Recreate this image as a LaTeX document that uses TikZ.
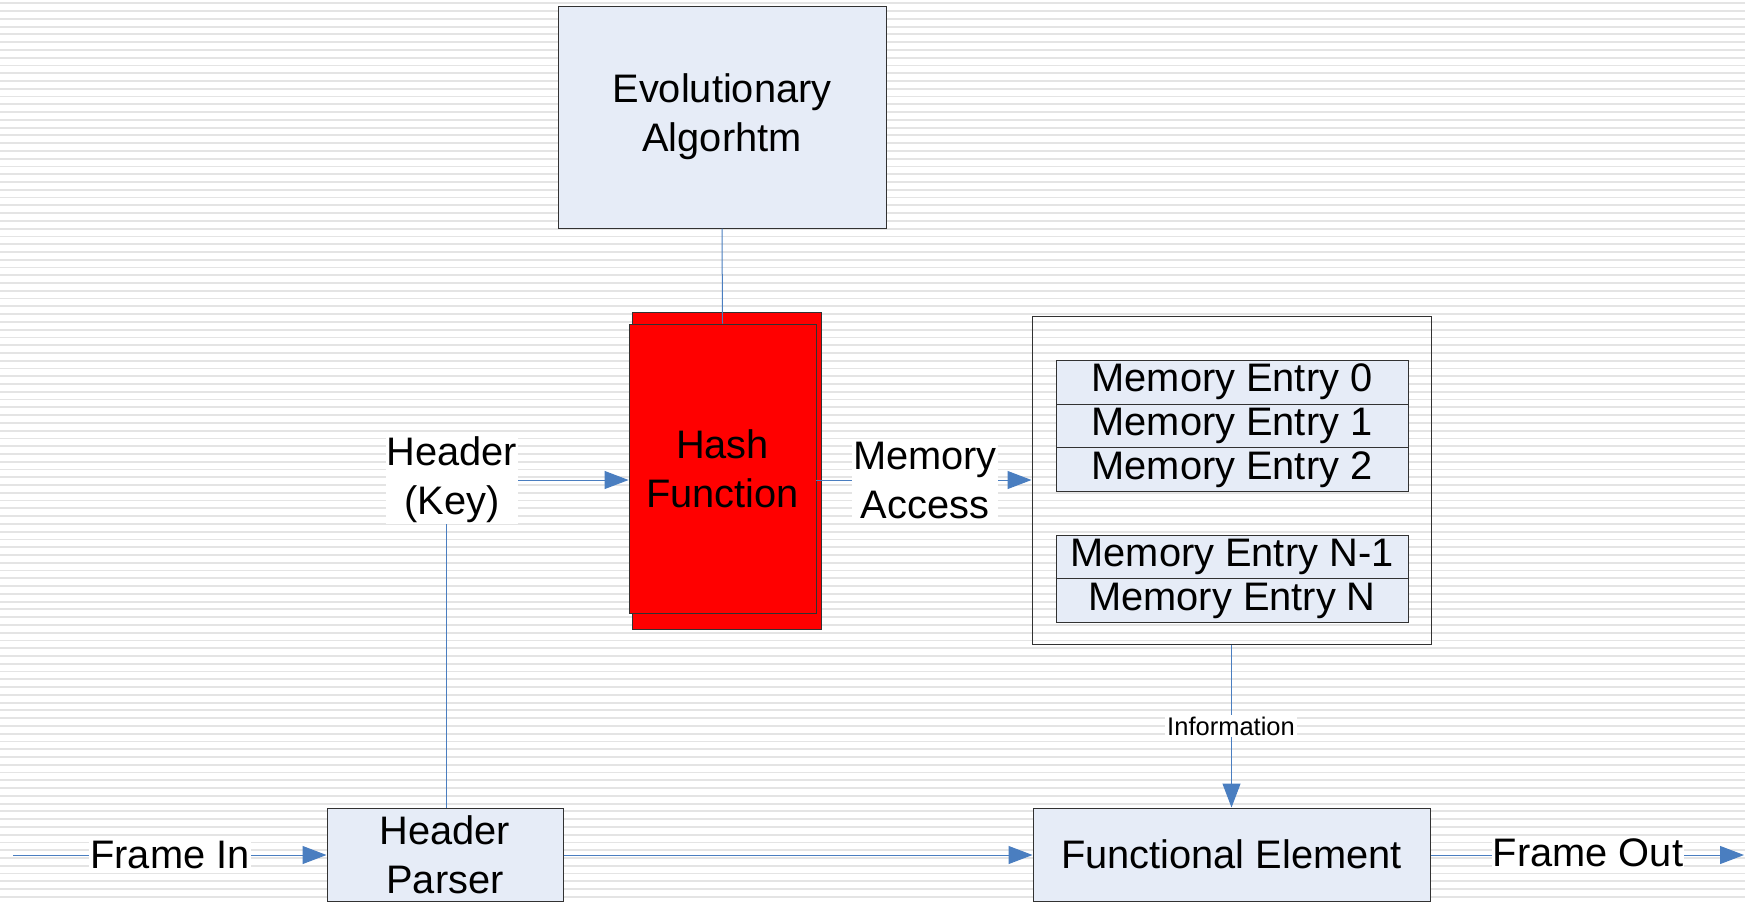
\documentclass[tikz,border=0pt]{standalone}
\usepackage{fontspec}
\setmainfont{Liberation Sans}
\usetikzlibrary{arrows.meta}
\definecolor{boxfill}{RGB}{230,236,247}
\definecolor{wire}{RGB}{74,126,192}
\definecolor{stripecol}{RGB}{228,228,228}
\definecolor{edgecol}{RGB}{50,50,50}
\definecolor{hashred}{RGB}{255,0,0}
\newcommand\diagbig{\fontsize{39.8}{49}\selectfont}
\newcommand\diagsmall{\fontsize{25.5}{29}\selectfont}
\begin{document}
\begin{tikzpicture}[x=1pt,y=-1pt,
  block/.style={draw=edgecol,line width=1pt,fill=boxfill,inner sep=0pt,align=center,font=\diagbig},
  entry/.style={draw=edgecol,line width=0.9pt,fill=boxfill,inner sep=0pt,minimum width=352pt,minimum height=44pt,font=\diagbig},
  redbox/.style={draw=edgecol,line width=0.9pt,fill=hashred,inner sep=0pt,align=center,font=\diagbig},
  tag/.style={fill=white,inner sep=1pt,align=center,font=\diagbig},
  smalltag/.style={fill=white,inner sep=2pt,font=\diagsmall},
  wireline/.style={draw=wire,line width=1pt},
  flow/.style={wireline,-{Triangle[length=24pt,width=18pt]}},
]
\useasboundingbox (0,0) rectangle (1745,903);
\fill[white] (0,0) rectangle (1745,903);
% ruled background
\foreach \i in {0,...,116}{
  \draw[stripecol,line width=1.8pt] (0,{3.3+7.77*\i}) -- (1745,{3.3+7.77*\i});
}

% blocks
\node[block,minimum width=328pt,minimum height=222pt] (evo) at (722,117) {Evolutionary\\Algorhtm};
\node[redbox,minimum width=189pt,minimum height=317pt] (hashback) at (726.5,470.5) {};
\node[redbox,minimum width=187pt,minimum height=289pt] (hash) at (722.5,468.5) {Hash\\Function};
\node[draw=edgecol,line width=1pt,inner sep=0pt,minimum width=399pt,minimum height=328pt] (mem) at (1231.5,480) {};
\node[entry] (e0) at (1232,382) {Memory Entry 0};
\node[entry] (e1) at (1232,426) {Memory Entry 1};
\node[entry] (e2) at (1232,469.5) {Memory Entry 2};
\node[entry] (en1) at (1232,557) {Memory Entry N-1};
\node[entry] (en) at (1232,600.5) {Memory Entry N};
\node[block,minimum width=236pt,minimum height=93pt] (hp) at (445,854.5) {Header\\Parser};
\node[block,minimum width=397pt,minimum height=93pt] (fe) at (1231.5,854.5) {Functional Element};

% free ends and corner
\coordinate (fin) at (13,855);
\coordinate (fout) at (1744,855);
\coordinate (keycorner) at (446,480);

% connectors
\draw[wireline] (evo.south) -- (hash.north);
\draw[flow] (fin) -- (fin -| hp.west);
\draw[flow] (hp.north -| keycorner) -- (keycorner) -- (keycorner -| hash.west);
\draw[flow] (hash.east |- 0,480) -- (mem.west |- 0,480);
\draw[flow] (hp.east |- 0,855) -- (fe.west |- 0,855);
\draw[flow] (mem.south) -- (fe.north);
\draw[flow] (fe.east |- 0,855) -- (fout);

% connector labels
\node[tag] (lin) at (170,855) {Frame In};
\node[tag] (lkey) at (452,480) {Header\\(Key)};
\node[tag] (lacc) at (925,480) {Memory\\Access};
\node[smalltag] (linfo) at (1231,726) {Information};
\node[tag] (lout) at (1588,853) {Frame Out};
\end{tikzpicture}
\end{document}
